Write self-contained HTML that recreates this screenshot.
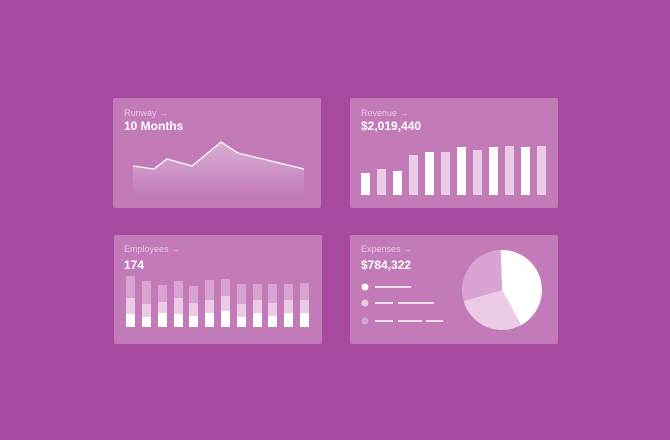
<!DOCTYPE html>
<html><head><meta charset="utf-8"><style>
html,body{margin:0;padding:0;background:#a849a0;}
svg{display:block}
text{font-family:"Liberation Sans",sans-serif;}
.l{font-size:9px;fill:#ecc7e6}
.v{font-size:12px;font-weight:bold;fill:#fff}
</style></head><body>
<svg width="670" height="440" viewBox="0 0 670 440">
<defs>
<linearGradient id="g" x1="0" y1="0" x2="0" y2="1">
<stop offset="0" stop-color="#fff" stop-opacity="0.4"/>
<stop offset="1" stop-color="#fff" stop-opacity="0"/>
</linearGradient>
</defs>
<rect width="670" height="440" fill="#a849a0"/>
<rect x="113" y="98" width="208" height="110" rx="2" fill="#c27ab9"/>
<rect x="350" y="98" width="208" height="110" rx="2" fill="#c27ab9"/>
<rect x="114" y="235" width="208" height="109" rx="2" fill="#c27ab9"/>
<rect x="350" y="235" width="208" height="109" rx="2" fill="#c27ab9"/>

<text x="124" y="116" class="l">Runway →</text>
<text x="124" y="130" class="v">10 Months</text>
<text x="361" y="116" class="l">Revenue →</text>
<text x="361" y="130" class="v">$2,019,440</text>
<text x="124" y="252" class="l">Employees →</text>
<text x="124" y="269" class="v">174</text>
<text x="361" y="252" class="l">Expenses →</text>
<text x="361" y="269" class="v">$784,322</text>

<path d="M133,166 L154,169 L167,159 L192,166 L221,142 L238,153 L304,169 L304,196 L133,196 Z" fill="url(#g)"/>
<polyline points="133,166 154,169 167,159 192,166 221,142 238,153 304,169" fill="none" stroke="#fff" stroke-width="1.3"/>

<g>
<rect x="361" y="173" width="9" height="22" fill="#fff"/>
<rect x="377" y="169" width="9" height="26" fill="#ebcbe6"/>
<rect x="393" y="171" width="9" height="24" fill="#fff"/>
<rect x="409" y="155" width="9" height="40" fill="#ebcbe6"/>
<rect x="425" y="152" width="9" height="43" fill="#fff"/>
<rect x="441" y="152" width="9" height="43" fill="#ebcbe6"/>
<rect x="457" y="147" width="9" height="48" fill="#fff"/>
<rect x="473" y="150" width="9" height="45" fill="#ebcbe6"/>
<rect x="489" y="147" width="9" height="48" fill="#fff"/>
<rect x="505" y="146" width="9" height="49" fill="#ebcbe6"/>
<rect x="521" y="147" width="9" height="48" fill="#fff"/>
<rect x="537" y="146" width="9" height="49" fill="#ebcbe6"/>
</g>

<g>
<rect x="126" y="276" width="9" height="22" fill="#d9a3d3"/><rect x="126" y="298" width="9" height="16" fill="#ebcbe6"/><rect x="126" y="314" width="9" height="13" fill="#fff"/>
<rect x="142" y="281" width="9" height="23" fill="#d9a3d3"/><rect x="142" y="304" width="9" height="13" fill="#ebcbe6"/><rect x="142" y="317" width="9" height="10" fill="#fff"/>
<rect x="158" y="285" width="9" height="17" fill="#d9a3d3"/><rect x="158" y="302" width="9" height="11" fill="#ebcbe6"/><rect x="158" y="313" width="9" height="14" fill="#fff"/>
<rect x="174" y="281" width="9" height="17" fill="#d9a3d3"/><rect x="174" y="298" width="9" height="16" fill="#ebcbe6"/><rect x="174" y="314" width="9" height="13" fill="#fff"/>
<rect x="189" y="286" width="9" height="17" fill="#d9a3d3"/><rect x="189" y="303" width="9" height="13" fill="#ebcbe6"/><rect x="189" y="316" width="9" height="11" fill="#fff"/>
<rect x="205" y="280" width="9" height="20" fill="#d9a3d3"/><rect x="205" y="300" width="9" height="13" fill="#ebcbe6"/><rect x="205" y="313" width="9" height="14" fill="#fff"/>
<rect x="221" y="279" width="9" height="17" fill="#d9a3d3"/><rect x="221" y="296" width="9" height="15" fill="#ebcbe6"/><rect x="221" y="311" width="9" height="16" fill="#fff"/>
<rect x="237" y="284" width="9" height="20" fill="#d9a3d3"/><rect x="237" y="304" width="9" height="13" fill="#ebcbe6"/><rect x="237" y="317" width="9" height="10" fill="#fff"/>
<rect x="253" y="284" width="9" height="16" fill="#d9a3d3"/><rect x="253" y="300" width="9" height="13" fill="#ebcbe6"/><rect x="253" y="313" width="9" height="14" fill="#fff"/>
<rect x="268" y="284" width="9" height="19" fill="#d9a3d3"/><rect x="268" y="303" width="9" height="13" fill="#ebcbe6"/><rect x="268" y="316" width="9" height="11" fill="#fff"/>
<rect x="284" y="284" width="9" height="16" fill="#d9a3d3"/><rect x="284" y="300" width="9" height="13" fill="#ebcbe6"/><rect x="284" y="313" width="9" height="14" fill="#fff"/>
<rect x="300" y="283" width="9" height="17" fill="#d9a3d3"/><rect x="300" y="300" width="9" height="13" fill="#ebcbe6"/><rect x="300" y="313" width="9" height="14" fill="#fff"/>
</g>

<circle cx="365" cy="287" r="3.5" fill="#fff"/>
<circle cx="365" cy="303" r="3.5" fill="#ebcbe6"/>
<circle cx="365" cy="321" r="3.5" fill="#d9a3d3"/>
<g stroke="#fff" stroke-width="1.6">
<line x1="375" y1="287" x2="411" y2="287"/>
<line x1="375" y1="303" x2="393" y2="303"/>
<line x1="398" y1="303" x2="434" y2="303"/>
<line x1="375" y1="321" x2="393" y2="321"/>
<line x1="398" y1="321" x2="422" y2="321"/>
<line x1="426" y1="321" x2="443" y2="321"/>
</g>

<g transform="translate(502,290)">
<path d="M0,0 L-1.4,-40 A40,40 0 0 1 19.1,35.1 Z" fill="#fff"/>
<path d="M0,0 L19.1,35.1 A40,40 0 0 1 -38.5,11 Z" fill="#ebcbe6"/>
<path d="M0,0 L-38.5,11 A40,40 0 0 1 -1.4,-40 Z" fill="#d9a3d3"/>
</g>
</svg>
</body></html>
